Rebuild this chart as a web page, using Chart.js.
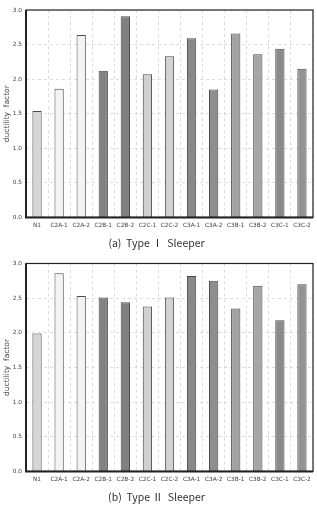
<!DOCTYPE html>
<html>
<head>
<meta charset="utf-8">
<script src="https://cdn.jsdelivr.net/npm/chart.js@4/dist/chart.umd.min.js"></script>
<style>
  html, body { margin: 0; padding: 0; background: #fff; }
  .box { position: relative; width: 317px; }
  #top { height: 256px; }
  #bottom { height: 259px; }
</style>
</head>
<body>
<div class="box" id="top"><canvas id="chartA"></canvas></div>
<div class="box" id="bottom"><canvas id="chartB"></canvas></div>
<script>
// specimen names
const specimens = ['N1', 'C2A-1', 'C2A-2', 'C2B-1', 'C2B-2', 'C2C-1', 'C2C-2',
                   'C3A-1', 'C3A-2', 'C3B-1', 'C3B-2', 'C3C-1', 'C3C-2'];

// ductility factor, Type I sleeper
const ductilityTypeI = [1.54, 1.86, 2.64, 2.12, 2.91, 2.07, 2.33,
                        2.59, 1.85, 2.66, 2.36, 2.44, 2.15];

// ductility factor, Type II sleeper
const ductilityTypeII = [1.99, 2.86, 2.53, 2.51, 2.44, 2.38, 2.51,
                         2.82, 2.75, 2.35, 2.68, 2.18, 2.70];

const yTicks = [0, 0.5, 1.0, 1.5, 2.0, 2.5, 3.0];

const barFills = ['#d6d6d6', '#f3f3f3', '#f3f3f3', '#828282', '#808080', '#d0d0d0', '#d2d2d2',
                  '#888888', '#8e8e8e', '#a2a2a2', '#a6a6a6', '#8b8b8b', '#939393'];

// black frame round the plot area, heavier on the left and bottom
const framePlugin = {
    id: 'frame',
    afterDraw(chart) {
        const a = chart.chartArea;
        const ctx = chart.ctx;
        ctx.save();
        ctx.strokeStyle = '#222';
        ctx.lineWidth = 1.2;
        ctx.strokeRect(a.left, a.top, a.right - a.left, a.bottom - a.top);
        ctx.lineWidth = 2;
        ctx.beginPath();
        ctx.moveTo(a.left, a.top);
        ctx.lineTo(a.left, a.bottom);
        ctx.lineTo(a.right, a.bottom);
        ctx.stroke();
        ctx.restore();
    }
};

function makeChart(id, values, caption, pad) {
    return new Chart(document.getElementById(id), {
        type: 'bar',
        data: {
            labels: specimens,
            datasets: [{
                data: values,
                backgroundColor: barFills,
                borderColor: '#4a4a4a',
                borderWidth: 1,
                barPercentage: 0.42,
                categoryPercentage: 1.0
            }]
        },
        options: {
            responsive: true,
            maintainAspectRatio: false,
            animation: false,
            layout: { padding: { top: pad.top, right: 4, left: 0, bottom: 0 } },
            plugins: {
                legend: { display: false },
                tooltip: { enabled: false },
                title: {
                    display: true,
                    position: 'bottom',
                    text: caption,
                    color: '#333',
                    font: { family: '"Noto Sans CJK KR", "Noto Sans", sans-serif', size: 10.5, weight: 'normal' },
                    padding: { top: pad.capTop, bottom: pad.capBottom }
                }
            },
            scales: {
                x: {
                    grid: { offset: true, color: '#d4d4d4', lineWidth: 0.8, drawTicks: false },
                    border: { display: false, dash: [3, 3] },
                    ticks: {
                        color: '#444',
                        font: { family: '"DejaVu Sans", sans-serif', size: 5.8 },
                        maxRotation: 0,
                        autoSkip: false,
                        padding: 5
                    },
                    afterFit(scale) { scale.height = 16; }
                },
                y: {
                    min: 0,
                    max: 3,
                    afterBuildTicks(scale) { scale.ticks = yTicks.map(v => ({ value: v })); },
                    grid: { color: '#d4d4d4', lineWidth: 0.8, drawTicks: false },
                    border: { display: false, dash: [3, 3] },
                    ticks: {
                        color: '#444',
                        font: { family: '"DejaVu Sans", sans-serif', size: 5.8 },
                        padding: 4,
                        callback: v => Number(v).toFixed(1)
                    },
                    title: {
                        display: true,
                        text: 'ductility  factor',
                        color: '#444',
                        font: { family: '"DejaVu Sans", sans-serif', size: 7.5 },
                        padding: { top: 3, bottom: 1 }
                    },
                    afterFit(scale) { scale.width = 26; }
                }
            }
        },
        plugins: [framePlugin]
    });
}

makeChart('chartA', ductilityTypeI, '(a)  Type Ⅰ  Sleeper', { top: 10, capTop: 3, capBottom: 7 });
makeChart('chartB', ductilityTypeII, '(b)  Type Ⅱ  Sleeper', { top: 7, capTop: 3, capBottom: 12 });
</script>
</body>
</html>
